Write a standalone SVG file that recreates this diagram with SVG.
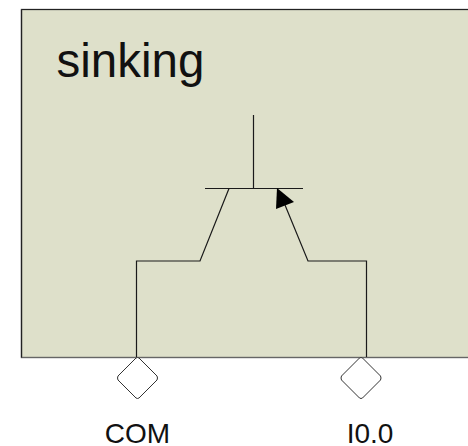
<svg xmlns="http://www.w3.org/2000/svg" width="468" height="446" viewBox="0 0 468 446">
<style>
.w{fill:none;stroke:#1a1a1a;stroke-width:1.2}
.t{font-family:"Liberation Sans",Arial,sans-serif;fill:#111}
.d{fill:#fff;stroke:#333;stroke-width:1;stroke-linejoin:round}
</style>
<rect width="468" height="446" fill="#fff"/>
<g id="box"><rect x="21.500" y="9.500" width="460" height="348" fill="#dee0ca" stroke="#666" stroke-width="1.4"/>
<path d="M21.500 9.500H468M21.500 9.500V357.500" fill="none" stroke="#222" stroke-width="1.2"/>
<text class="t" x="56.500" y="77" font-size="47.500">sinking</text></g>
<g id="connectors">
<path class="w" d="M253.500 115V188M205 188.500H303M229 188.500L200 261H136.500V357"/>
<path class="w" d="M285 205L308 261H366.500V357"/>
<polygon points="277,188 294,202 276,209" fill="#000"/>
</g>
<g id="com"><path class="d" d="M136 358Q137.500 357 139 358L157 376Q158 378 157 380L139 398Q137.500 399 136 398L118 380Q117 378 118 376Z"/><text class="t" x="137.500" y="443" font-size="28" text-anchor="middle">COM</text></g>
<g id="i00"><path class="d" d="M359.500 358Q361 357 362.500 358L380.500 376Q381.500 378 380.500 380L362.500 398Q361 399 359.500 398L341.500 380Q340.500 378 341.500 376Z"/><text class="t" x="370" y="443" font-size="28" text-anchor="middle">I0.0</text></g>
</svg>
